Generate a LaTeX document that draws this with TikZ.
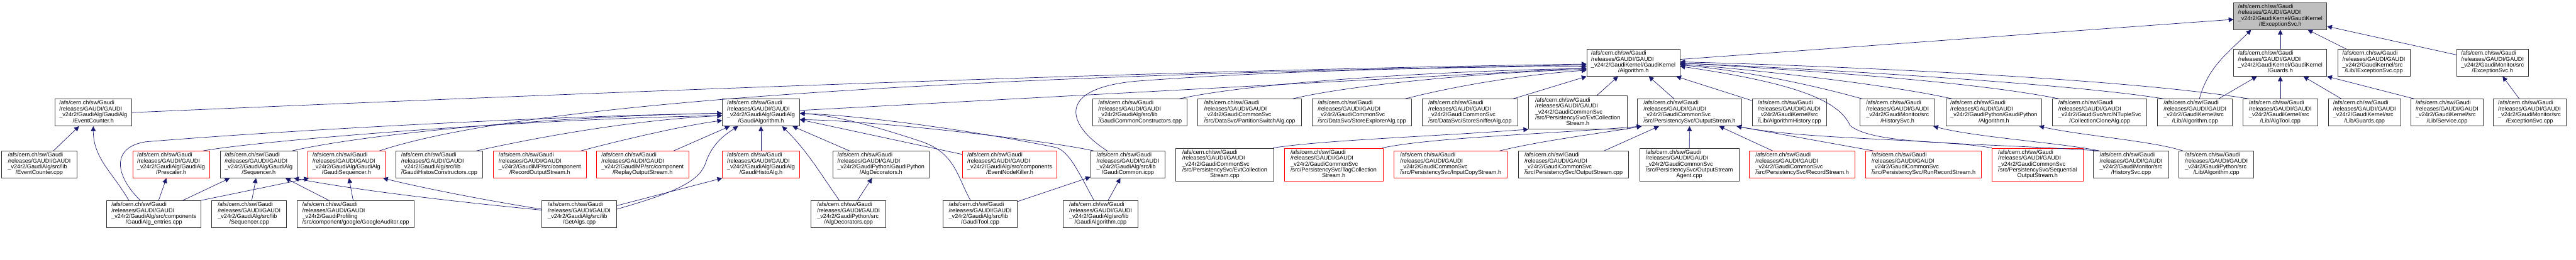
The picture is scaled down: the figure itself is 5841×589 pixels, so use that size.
\documentclass[tikz,border=0pt]{standalone}
\usepackage{fontspec}
\setmainfont{Liberation Sans}
\usetikzlibrary{arrows.meta}
\definecolor{depblue}{RGB}{25,25,112}
\definecolor{cutred}{RGB}{255,0,0}
\definecolor{mainfill}{RGB}{191,191,191}
\newcommand{\pathfont}{\fontsize{13}{13.3}\selectfont}
\newcommand{\gaudifile}[2]{\begin{tabular}{@{}l@{}}/afs/cern.ch/sw/Gaudi\\/releases/GAUDI/GAUDI\\#1\\\multicolumn{1}{@{}c@{}}{#2}\end{tabular}}
\tikzset{
    file/.style={rectangle, draw=black!80, line width=1.2pt, fill=white, inner sep=0pt, minimum height=61pt, font=\pathfont},
    cutfile/.style={file, draw=cutred},
    mainfile/.style={file, fill=mainfill},
    tall/.style={minimum height=75pt},
    edge/.style={-{Triangle[length=11pt,width=11pt]}, draw=depblue, line width=1pt}
}

\begin{document}
\begin{tikzpicture}[x=1pt, y=1pt]
    \useasboundingbox (0,0) rectangle (5841,-589);

    \node[mainfile, minimum width=211pt] (IExcH) at (5170.5,-36.5) {\gaudifile{\_v24r2/GaudiKernel/GaudiKernel}{/IExceptionSvc.h}};

    \node[file, minimum width=211pt] (AlgH) at (3703.5,-142.5) {\gaudifile{\_v24r2/GaudiKernel/GaudiKernel}{/Algorithm.h}};
    \node[file, minimum width=211pt] (GuardsH) at (5170.5,-142.5) {\gaudifile{\_v24r2/GaudiKernel/GaudiKernel}{/Guards.h}};
    \node[file, minimum width=164pt] (IExcCpp) at (5382.5,-142.5) {\gaudifile{\_v24r2/GaudiKernel/src}{/Lib/IExceptionSvc.cpp}};
    \node[file, minimum width=163pt] (ExcH) at (5651.5,-142.5) {\gaudifile{\_v24r2/GaudiMonitor/src}{/ExceptionSvc.h}};

    \node[file, minimum width=175pt] (EvCntH) at (211.5,-255.5) {\gaudifile{\_v24r2/GaudiAlg/GaudiAlg}{/EventCounter.h}};
    \node[file, minimum width=175pt] (GAlgH) at (1725.5,-255.5) {\gaudifile{\_v24r2/GaudiAlg/GaudiAlg}{/GaudiAlgorithm.h}};
    \node[file, minimum width=214pt] (GComCtor) at (2585,-255.5) {\gaudifile{\_v24r2/GaudiAlg/src/lib}{/GaudiCommonConstructors.cpp}};
    \node[file, minimum width=235pt] (PartSw) at (2833.5,-255.5) {\gaudifile{\_v24r2/GaudiCommonSvc}{/src/DataSvc/PartitionSwitchAlg.cpp}};
    \node[file, minimum width=226pt] (StoreExp) at (3088,-255.5) {\gaudifile{\_v24r2/GaudiCommonSvc}{/src/DataSvc/StoreExplorerAlg.cpp}};
    \node[file, minimum width=216pt] (StoreSnf) at (3333,-255.5) {\gaudifile{\_v24r2/GaudiCommonSvc}{/src/DataSvc/StoreSnifferAlg.cpp}};
    \node[file, tall, minimum width=223pt] (EvtCollH) at (3577.5,-255.5) {\gaudifile{\_v24r2/GaudiCommonSvc\\/src/PersistencySvc/EvtCollection}{Stream.h}};
    \node[file, minimum width=236pt] (OutStrH) at (3831,-255.5) {\gaudifile{\_v24r2/GaudiCommonSvc}{/src/PersistencySvc/OutputStream.h}};
    \node[file, minimum width=169pt] (AlgHist) at (4057.5,-255.5) {\gaudifile{\_v24r2/GaudiKernel/src}{/Lib/AlgorithmHistory.cpp}};
    \node[file, minimum width=169pt] (HistSvcH) at (4302.5,-255.5) {\gaudifile{\_v24r2/GaudiMonitor/src}{/HistorySvc.h}};
    \node[file, minimum width=218pt] (PyAlgH) at (4521,-255.5) {\gaudifile{\_v24r2/GaudiPython/GaudiPython}{/Algorithm.h}};
    \node[file, minimum width=214pt] (CollClone) at (4761,-255.5) {\gaudifile{\_v24r2/GaudiSvc/src/NTupleSvc}{/CollectionCloneAlg.cpp}};
    \node[file, minimum width=170pt] (KAlgCpp) at (4977,-255.5) {\gaudifile{\_v24r2/GaudiKernel/src}{/Lib/Algorithm.cpp}};
    \node[file, minimum width=169pt] (AlgTool) at (5170.5,-255.5) {\gaudifile{\_v24r2/GaudiKernel/src}{/Lib/AlgTool.cpp}};
    \node[file, minimum width=165pt] (GuardsCpp) at (5361.5,-255.5) {\gaudifile{\_v24r2/GaudiKernel/src}{/Lib/Guards.cpp}};
    \node[file, minimum width=163pt] (ServCpp) at (5548.5,-255.5) {\gaudifile{\_v24r2/GaudiKernel/src}{/Lib/Service.cpp}};
    \node[file, minimum width=165pt] (ExcCpp) at (5735.5,-255.5) {\gaudifile{\_v24r2/GaudiMonitor/src}{/ExceptionSvc.cpp}};

    \node[file, minimum width=170pt] (EvCntCpp) at (89,-373.5) {\gaudifile{\_v24r2/GaudiAlg/src/lib}{/EventCounter.cpp}};
    \node[cutfile, minimum width=174pt] (PrescH) at (388,-373.5) {\gaudifile{\_v24r2/GaudiAlg/GaudiAlg}{/Prescaler.h}};
    \node[file, minimum width=175pt] (SeqH) at (586.5,-373.5) {\gaudifile{\_v24r2/GaudiAlg/GaudiAlg}{/Sequencer.h}};
    \node[cutfile, minimum width=175pt] (GSeqH) at (785.5,-373.5) {\gaudifile{\_v24r2/GaudiAlg/GaudiAlg}{/GaudiSequencer.h}};
    \node[file, minimum width=198pt] (GHistCtor) at (996,-373.5) {\gaudifile{\_v24r2/GaudiAlg/src/lib}{/GaudiHistosConstructors.cpp}};
    \node[cutfile, minimum width=210pt] (RecOutH) at (1224,-373.5) {\gaudifile{\_v24r2/GaudiMP/src/component}{/RecordOutputStream.h}};
    \node[cutfile, minimum width=210pt] (RepOutH) at (1457,-373.5) {\gaudifile{\_v24r2/GaudiMP/src/component}{/ReplayOutputStream.h}};
    \node[cutfile, minimum width=175pt] (GHistAlgH) at (1725.5,-373.5) {\gaudifile{\_v24r2/GaudiAlg/GaudiAlg}{/GaudiHistoAlg.h}};
    \node[file, minimum width=219pt] (AlgDecH) at (1997.5,-373.5) {\gaudifile{\_v24r2/GaudiPython/GaudiPython}{/AlgDecorators.h}};
    \node[cutfile, minimum width=215pt] (EvNodeK) at (2289.5,-373.5) {\gaudifile{\_v24r2/GaudiAlg/src/components}{/EventNodeKiller.h}};
    \node[file, minimum width=169pt] (GComIcpp) at (2557.5,-373.5) {\gaudifile{\_v24r2/GaudiAlg/src/lib}{/GaudiCommon.icpp}};
    \node[file, tall, minimum width=222pt] (EvtCollCpp) at (2777,-374) {\gaudifile{\_v24r2/GaudiCommonSvc\\/src/PersistencySvc/EvtCollection}{Stream.cpp}};
    \node[cutfile, tall, minimum width=224pt] (TagCollH) at (3024,-374) {\gaudifile{\_v24r2/GaudiCommonSvc\\/src/PersistencySvc/TagCollection}{Stream.h}};
    \node[cutfile, minimum width=257pt] (InCopyH) at (3289.5,-373.5) {\gaudifile{\_v24r2/GaudiCommonSvc}{/src/PersistencySvc/InputCopyStream.h}};
    \node[file, minimum width=250pt] (OutStrCpp) at (3568,-373.5) {\gaudifile{\_v24r2/GaudiCommonSvc}{/src/PersistencySvc/OutputStream.cpp}};
    \node[file, tall, minimum width=225pt] (OutAgent) at (3830.5,-374) {\gaudifile{\_v24r2/GaudiCommonSvc\\/src/PersistencySvc/OutputStream}{Agent.cpp}};
    \node[cutfile, minimum width=239pt] (RecStrH) at (4086.5,-373.5) {\gaudifile{\_v24r2/GaudiCommonSvc}{/src/PersistencySvc/RecordStream.h}};
    \node[cutfile, minimum width=263pt] (RunRecH) at (4361.5,-373.5) {\gaudifile{\_v24r2/GaudiCommonSvc}{/src/PersistencySvc/RunRecordStream.h}};
    \node[cutfile, tall, minimum width=206pt] (SeqOutH) at (4620,-374) {\gaudifile{\_v24r2/GaudiCommonSvc\\/src/PersistencySvc/Sequential}{OutputStream.h}};
    \node[file, minimum width=170pt] (HistSvcCpp) at (4832,-373.5) {\gaudifile{\_v24r2/GaudiMonitor/src}{/HistorySvc.cpp}};
    \node[file, minimum width=169pt] (PyAlgCpp) at (5025.5,-373.5) {\gaudifile{\_v24r2/GaudiPython/src}{/Lib/Algorithm.cpp}};

    \node[file, minimum width=214pt] (Entries) at (349,-486) {\gaudifile{\_v24r2/GaudiAlg/src/components}{/GaudiAlg\_entries.cpp}};
    \node[file, minimum width=170pt] (SeqCpp) at (565,-486) {\gaudifile{\_v24r2/GaudiAlg/src/lib}{/Sequencer.cpp}};
    \node[file, minimum width=265pt] (Google) at (806.5,-486) {\gaudifile{\_v24r2/GaudiProfiling}{/src/component/google/GoogleAuditor.cpp}};
    \node[file, minimum width=169pt] (GetAlgs) at (1313.5,-486) {\gaudifile{\_v24r2/GaudiAlg/src/lib}{/GetAlgs.cpp}};
    \node[file, minimum width=170pt] (AlgDecCpp) at (1924,-486) {\gaudifile{\_v24r2/GaudiPython/src}{/AlgDecorators.cpp}};
    \node[file, minimum width=169pt] (GToolCpp) at (2222.5,-486) {\gaudifile{\_v24r2/GaudiAlg/src/lib}{/GaudiTool.cpp}};
    \node[file, minimum width=169pt] (GAlgCpp) at (2495.5,-486) {\gaudifile{\_v24r2/GaudiAlg/src/lib}{/GaudiAlgorithm.cpp}};

    \draw[edge] (AlgH) -- (IExcH);
    \draw[edge] (GuardsH) -- (IExcH);
    \draw[edge] (IExcCpp) -- (IExcH);
    \draw[edge] (ExcH) -- (IExcH);
    \draw[edge] ([xshift=10pt]KAlgCpp.north) .. controls (5007,-151) and (5051,-121) .. ([xshift=40pt]IExcH.south west);
    \draw[edge] (KAlgCpp) -- (GuardsH);
    \draw[edge] (AlgTool) -- (GuardsH);
    \draw[edge] (GuardsCpp) -- (GuardsH);
    \draw[edge] ([xshift=8pt]ServCpp.north west) -- (GuardsH.south east);
    \draw[edge] (ExcCpp) -- (ExcH);

    \draw[edge] (EvCntH.east) .. controls (1300,-212) and (2600,-160) .. ([yshift=-3pt]AlgH.west);
    \draw[edge] (GAlgH) -- ([yshift=-12pt]AlgH.west);
    \draw[edge] ([xshift=-13pt]GSeqH.north east) .. controls (1200,-230) and (2200,-170) .. ([yshift=-5pt]AlgH.west);
    \draw[edge] ([xshift=-47pt]GComIcpp.north) .. controls (2420,-285) and (2390,-200) .. (2580,-184) .. controls (2900,-160) and (3300,-152) .. ([yshift=-8pt]AlgH.west);
    \draw[edge] ([xshift=-19pt]GComCtor.north east) .. controls (2850,-185) and (3300,-160) .. ([yshift=-13pt]AlgH.west);
    \draw[edge] ([xshift=-21pt]PartSw.north east) .. controls (3050,-195) and (3350,-165) .. ([yshift=-15pt]AlgH.west);
    \draw[edge] ([xshift=-16pt]StoreExp.north east) .. controls (3300,-195) and (3450,-170) .. ([yshift=-17pt]AlgH.west);
    \draw[edge] ([xshift=-11pt]StoreSnf.north east) -- (AlgH.south west);
    \draw[edge] (EvtCollH) -- (AlgH);
    \draw[edge] (OutStrH) -- (AlgH);
    \draw[edge] (AlgHist) -- (AlgH);
    \draw[edge] ([xshift=5pt]HistSvcH.north west) .. controls (4100,-190) and (3950,-160) .. ([yshift=-5pt]AlgH.east);
    \draw[edge] ([xshift=15pt]PyAlgH.north west) .. controls (4300,-195) and (4000,-160) .. ([yshift=-3pt]AlgH.east);
    \draw[edge] ([xshift=16pt]CollClone.north west) .. controls (4450,-180) and (4000,-155) .. (AlgH.east);
    \draw[edge] ([xshift=15pt]KAlgCpp.north west) .. controls (4700,-190) and (4100,-155) .. ([yshift=-1pt]AlgH.east);
    \draw[edge] ([xshift=14pt]AlgTool.north west) .. controls (4800,-175) and (4100,-148) .. ([yshift=2pt]AlgH.east);
    \draw[edge] ([xshift=13pt]HistSvcCpp.north west) .. controls (4450,-322) and (4250,-330) .. (4195,-285) .. controls (4170,-230) and (4080,-190) .. ([yshift=-8pt]AlgH.east);

    \draw[edge] (EvCntCpp) -- (EvCntH);
    \draw[edge] ([xshift=-57pt]Entries.north) to[out=120,in=-90] (EvCntH.south);
    \draw[edge] (Entries) -- (PrescH);
    \draw[edge] (Entries) -- (SeqH);
    \draw[edge] (Entries.north east) -- ([xshift=3pt]GSeqH.south west);
    \draw[edge] ([xshift=-31pt]Entries.north) .. controls (262,-400) and (250,-335) .. (330,-322) .. controls (700,-292) and (1300,-262) .. ([yshift=-2pt]GAlgH.west);
    \draw[edge] ([xshift=-15pt]PrescH.north east) .. controls (600,-318) and (1200,-270) .. ([yshift=-7pt]GAlgH.west);
    \draw[edge] ([xshift=-12pt]SeqH.north east) .. controls (850,-300) and (1300,-262) .. ([yshift=-2pt]GAlgH.west);
    \draw[edge] ([xshift=-15pt]GHistCtor.north east) .. controls (1250,-305) and (1450,-272) .. ([yshift=-7pt]GAlgH.west);
    \draw[edge] ([xshift=-12pt]RecOutH.north east) .. controls (1400,-320) and (1550,-285) .. ([yshift=-18pt]GAlgH.west);
    \draw[edge] (RepOutH) -- (GAlgH);
    \draw[edge] (GHistAlgH) -- (GAlgH);
    \draw[edge] (AlgDecH) -- (GAlgH);
    \draw[edge] ([xshift=-21pt]AlgDecCpp.north) to[out=125,in=-45] ([xshift=48pt]GAlgH.south);
    \draw[edge] ([yshift=11pt]GetAlgs.east) .. controls (1520,-440) and (1585,-415) .. (1600,-370) .. controls (1615,-325) and (1645,-305) .. ([xshift=-52pt]GAlgH.south);
    \draw[edge] (EvNodeK) -- ([yshift=-16pt]GAlgH.east);
    \draw[edge] ([xshift=-22pt]GToolCpp.north) .. controls (2170,-400) and (2165,-345) .. (2085,-320) .. controls (2000,-292) and (1900,-262) .. ([yshift=-2pt]GAlgH.east);
    \draw[edge] ([xshift=7pt]GComIcpp.north west) .. controls (2380,-320) and (2000,-275) .. ([yshift=-16pt]GAlgH.east);
    \draw[edge] ([xshift=-15pt]GAlgCpp.north) .. controls (2445,-390) and (2425,-345) .. (2395,-335) .. controls (2200,-295) and (1950,-262) .. ([yshift=-2pt]GAlgH.east);

    \draw[edge] (SeqCpp) -- (SeqH);
    \draw[edge] (Google) -- (SeqH);
    \draw[edge] ([yshift=9pt]GetAlgs.west) .. controls (1000,-455) and (800,-430) .. ([xshift=80pt]SeqH.south);
    \draw[edge] (Google) -- (GSeqH);
    \draw[edge] ([yshift=11pt]GetAlgs.west) .. controls (1100,-455) and (950,-425) .. ([xshift=-5pt]GSeqH.south east);
    \draw[edge] ([yshift=19pt]GetAlgs.east) -- (GHistAlgH.south west);
    \draw[edge] (AlgDecCpp) -- (AlgDecH);
    \draw[edge] (GToolCpp) -- (GComIcpp);
    \draw[edge] (GAlgCpp) -- (GComIcpp);

    \draw[edge] ([xshift=-2pt]EvtCollCpp.north east) .. controls (3000,-318) and (3250,-310) .. (EvtCollH.south west);
    \draw[edge] ([xshift=-3pt]TagCollH.north east) .. controls (3250,-312) and (3500,-305) .. ([xshift=10pt]OutStrH.south west);
    \draw[edge] ([xshift=-18pt]InCopyH.north east) .. controls (3500,-318) and (3650,-300) .. ([xshift=10pt]OutStrH.south west);
    \draw[edge] (OutStrCpp) -- (OutStrH);
    \draw[edge] (OutAgent) -- (OutStrH);
    \draw[edge] (RecStrH) -- (OutStrH);
    \draw[edge] ([xshift=18pt]RunRecH.north west) -- ([xshift=-12pt]OutStrH.south east);
    \draw[edge] (SeqOutH.north west) .. controls (4400,-315) and (4100,-318) .. ([xshift=-12pt]OutStrH.south east);
    \draw[edge] ([xshift=13pt]HistSvcCpp.north west) .. controls (4680,-325) and (4480,-312) .. ([xshift=-4pt]HistSvcH.south east);
    \draw[edge] ([xshift=9pt]PyAlgCpp.north west) .. controls (4880,-320) and (4720,-308) .. ([xshift=-7pt]PyAlgH.south east);
\end{tikzpicture}
\end{document}
